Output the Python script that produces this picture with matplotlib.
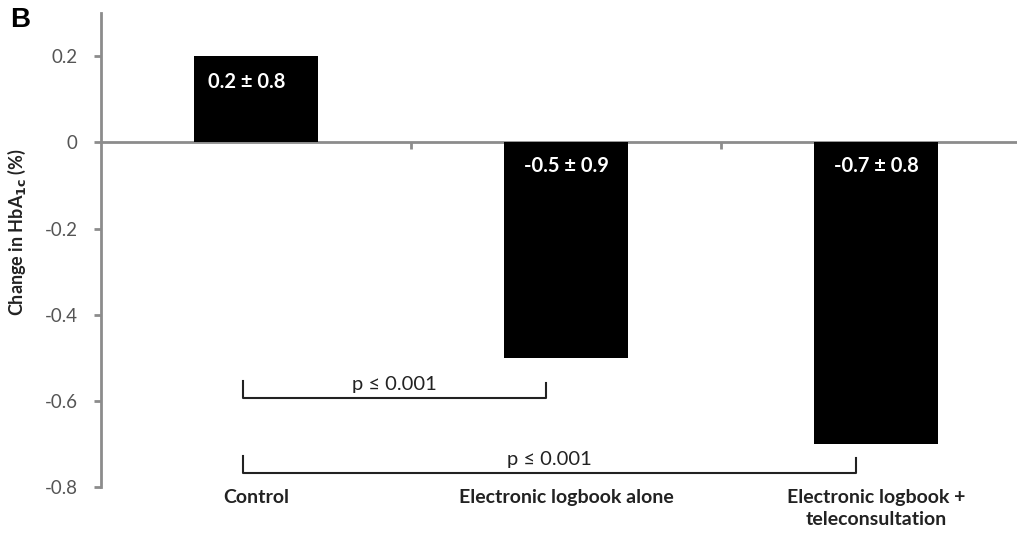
import matplotlib.pyplot as plt
import matplotlib.transforms as mtransforms

plt.rcParams['font.family'] = ['Lato', 'DejaVu Sans']

groups = ['Control', 'Electronic logbook alone', 'Electronic logbook +\nteleconsultation']
change = [0.2, -0.5, -0.7]
bar_text = ['0.2 ± 0.8', '-0.5 ± 0.9', '-0.7 ± 0.8']
yticks = [0.2, 0, -0.2, -0.4, -0.6, -0.8]
ytick_labels = ['0.2', '0', '-0.2', '-0.4', '-0.6', '-0.8']
# comparisons: (from group, to group, bracket level, label)
comparisons = [(0, 1, -0.593, 'p ≤ 0.001'), (0, 2, -0.767, 'p ≤ 0.001')]

gray = '#8c8c8c'

fig = plt.figure(figsize=(10.17, 5.53), dpi=100)
ax = fig.add_axes([0.0993, 0.1193, 0.9145, 0.857])

x = list(range(len(groups)))
ax.bar(x, change, width=0.4, color='black', zorder=3)

for i, (v, t) in enumerate(zip(change, bar_text)):
    if v > 0:
        ypos = v - 0.06
        xpos = i - 0.03
    else:
        ypos = -0.055
        xpos = i
    ax.text(xpos, ypos, t, color='white', fontsize=14.5, fontweight='bold',
            ha='center', va='center', zorder=4)

ax.set_xlim(-0.5, 2.5)
ax.set_ylim(-0.8, 0.3)

for s in ['top', 'right']:
    ax.spines[s].set_visible(False)
ax.spines['left'].set_color(gray)
ax.spines['left'].set_linewidth(2)
ax.spines['left'].set_bounds(-0.8, 0.3)
ax.spines['bottom'].set_position(('data', 0))
ax.spines['bottom'].set_color(gray)
ax.spines['bottom'].set_linewidth(2)

ax.set_yticks(yticks)
ax.set_yticklabels(ytick_labels)
ax.tick_params(axis='y', direction='out', length=5, width=2, color=gray,
               labelsize=13.5, labelcolor='#555555', pad=12)
ax.set_xticks([0.5, 1.5])
ax.set_xticklabels(['', ''])
ax.tick_params(axis='x', direction='out', length=5, width=2, color=gray)

trans = mtransforms.blended_transform_factory(ax.transData, ax.transAxes)
for i, g in enumerate(groups):
    ax.text(i, -0.004, g, transform=trans, ha='center', va='top',
            fontsize=14, fontweight='bold', color='#222222', linespacing=1.35)

for a, b, lvl, lab in comparisons:
    xa = a - 0.042
    xb = b - 0.065
    ax.plot([xa, xa, xb, xb], [lvl + 0.04, lvl, lvl, lvl + 0.035],
            color='#222222', lw=1.5, zorder=3)
    ax.text((xa + xb) / 2, lvl + 0.012, lab, ha='center', va='bottom',
            fontsize=14.5, color='#222222')

ax.set_ylabel('Change in HbA$_{\\mathbf{1c}}$ (%)', fontsize=13, fontweight='bold',
              color='#222222')
ax.yaxis.set_label_coords(-0.078, 0.538)

fig.text(0.01, 0.963, 'B', fontsize=20, fontweight='bold', va='center',
         family=['Liberation Sans', 'DejaVu Sans'])

fig.savefig('out.png', dpi=100)
